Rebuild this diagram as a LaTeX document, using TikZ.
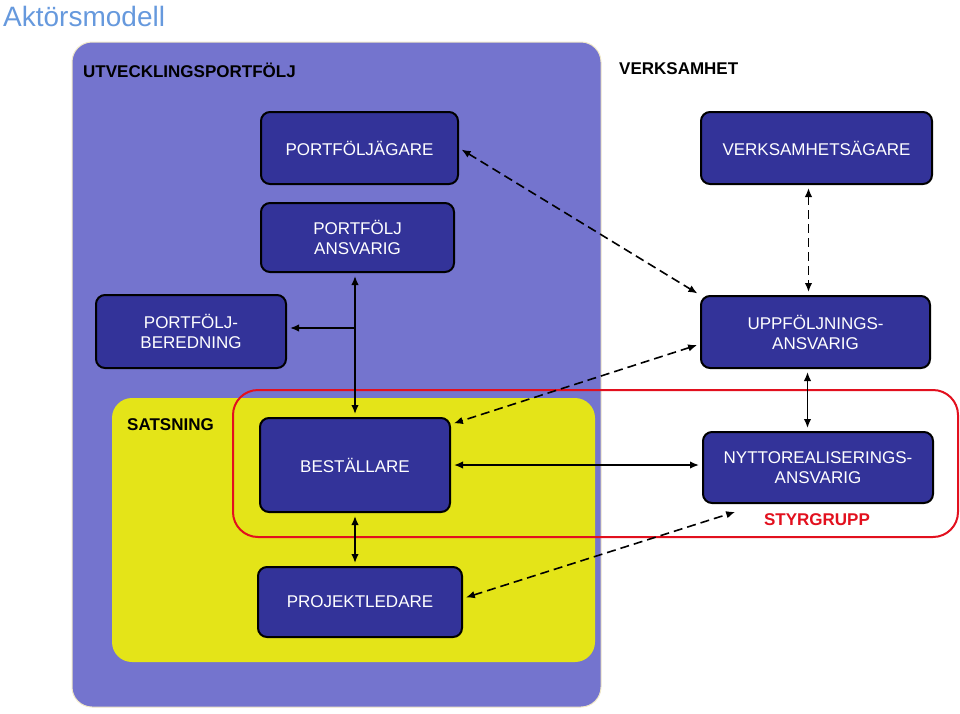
\documentclass[tikz,border=0pt]{standalone}
\usepackage{fontspec}
\setmainfont{Liberation Sans}
\usetikzlibrary{arrows.meta,calc}
\definecolor{purplebg}{RGB}{116,116,206}
\definecolor{yellowbg}{RGB}{228,228,24}
\definecolor{boxblue}{RGB}{51,51,153}
\definecolor{titleblue}{RGB}{102,153,221}
\definecolor{groupred}{RGB}{226,16,30}
\definecolor{cream}{RGB}{240,232,200}
\tikzset{
  actor/.style={draw=black, line width=2pt, fill=boxblue, rounded corners=9pt,
    text=white, align=center, inner sep=0pt,
    font=\fontsize{17}{20}\selectfont},
  grouplabel/.style={anchor=west, inner sep=0pt, font=\fontsize{17}{20}\selectfont\bfseries},
  conn/.style={line width=1.6pt, {Latex[length=9pt,width=7.5pt]}-{Latex[length=9pt,width=7.5pt]},
    shorten >=3pt, shorten <=3pt},
  oneway/.style={line width=1.6pt, -{Latex[length=9pt,width=7.5pt]}, shorten >=3pt},
  dconn/.style={conn, dash pattern=on 9pt off 5pt}
}
\begin{document}
\begin{tikzpicture}[x=1pt,y=-1pt]
\useasboundingbox (0,0) rectangle (960,713);
% title
\node[anchor=west, inner sep=0pt, text=titleblue, font=\fontsize{28}{32}\selectfont] (title) at (3,16) {Aktörsmodell};
% background areas
\draw[fill=purplebg, draw=cream, line width=1pt, rounded corners=20pt] (72,42) rectangle (601,707);
\fill[yellowbg, rounded corners=20pt] (112,398) rectangle (595,662);
\draw[groupred, line width=2pt, rounded corners=25pt] (233,390) rectangle (958,537);
% group labels
\node[grouplabel] (lutv) at (83,70) {UTVECKLINGSPORTFÖLJ};
\node[grouplabel] (lverk) at (619,69) {VERKSAMHET};
\node[grouplabel] (lsats) at (127,425) {SATSNING};
\node[inner sep=0pt, text=groupred, font=\fontsize{17}{20}\selectfont\bfseries] (lstyr) at (817,520) {STYRGRUPP};
% actors
\node[actor, minimum width=197pt, minimum height=72pt] (pag) at (359.5,148) {PORTFÖLJÄGARE};
\node[actor, minimum width=231pt, minimum height=72pt] (vag) at (816.5,148) {VERKSAMHETSÄGARE};
\node[actor, minimum width=193pt, minimum height=69pt] (pans) at (357.5,237.5) {PORTFÖLJ\\ANSVARIG};
\node[actor, minimum width=190pt, minimum height=73pt] (pber) at (191,331.5) {PORTFÖLJ-\\BEREDNING};
\node[actor, minimum width=229pt, minimum height=72pt] (uppf) at (815.5,332) {UPPFÖLJNINGS-\\ANSVARIG};
\node[actor, minimum width=190pt, minimum height=94pt] (best) at (355,465) {BESTÄLLARE};
\node[actor, minimum width=230pt, minimum height=71pt] (nytt) at (818,467.5) {NYTTOREALISERINGS-\\ANSVARIG};
\node[actor, minimum width=204pt, minimum height=70pt] (proj) at (360,602) {PROJEKTLEDARE};
% connectors
\coordinate (br) at (355,328);
\coordinate (sgend) at (738,511);
\draw[dconn] (pag.east) -- (uppf.north west);
\draw[dconn] ([xshift=-8pt]vag.south) -- ([xshift=-8pt]vag.south |- uppf.north);
\draw[dconn] (uppf.-174.5) -- (best.23);
\draw[dconn] (proj.2) -- (sgend);
\draw[conn] (best.north) -- (best.north |- pans.south);
\draw[oneway] (br) -- (br -| pber.east);
\draw[conn] (best.east) -- (best.east -| nytt.west);
\draw[conn] ([xshift=-8pt]uppf.south) -- ([xshift=-8pt]uppf.south |- nytt.north);
\draw[conn] (best.south) -- (best.south |- proj.north);
\end{tikzpicture}
\end{document}
